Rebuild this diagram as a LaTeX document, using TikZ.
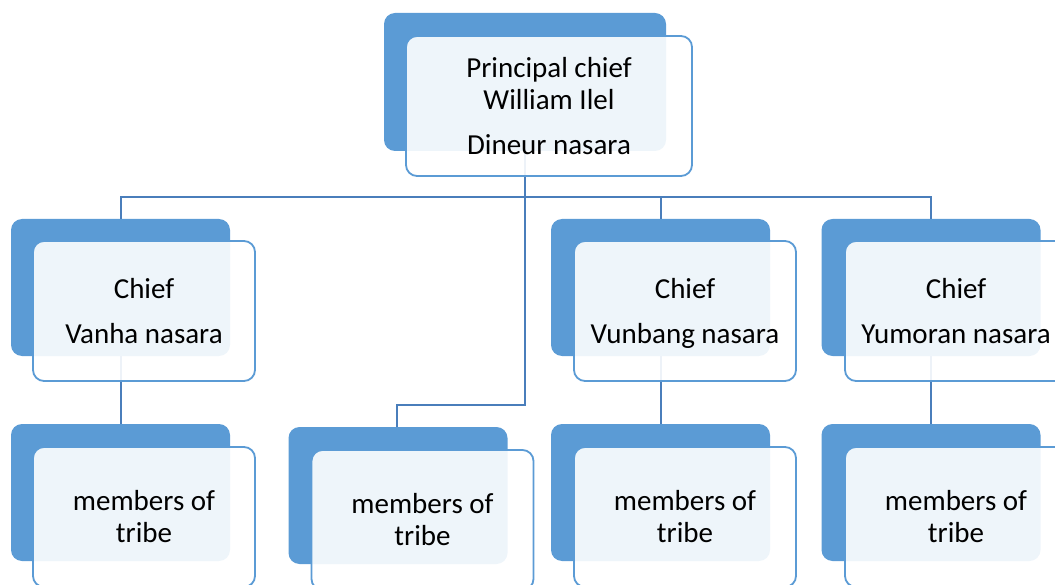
\documentclass[tikz,border=0pt]{standalone}
\usepackage{fontspec}
\setmainfont{Carlito}
\definecolor{backblue}{HTML}{5B9BD5}
\definecolor{edgeblue}{HTML}{5B9BD5}
\definecolor{lineblue}{HTML}{4A7EBB}
\begin{document}
\begin{tikzpicture}[x=1pt,y=-1pt,
  backbox/.style={rectangle,rounded corners=11pt,fill=backblue,draw=none,inner sep=0pt,minimum width=219pt,minimum height=137pt},
  frontbox/.style={rectangle,rounded corners=11pt,draw=edgeblue,line width=1.8pt,fill=white,fill opacity=0.9,text opacity=1,inner sep=0pt,minimum width=222pt,minimum height=140pt,align=center,font=\fontsize{29}{32}\selectfont},
  conn/.style={draw=lineblue,line width=2pt}]
\useasboundingbox (0,0) rectangle (1055,585);
% back boxes
\node[backbox,minimum width=282pt,minimum height=138pt] (tb) at (525,82) {};
\node[backbox] (c1b) at (120.5,287.5) {};
\node[backbox] (c2b) at (660.5,287.5) {};
\node[backbox] (c3b) at (931,287.5) {};
\node[backbox] (m1b) at (120.5,492.5) {};
\node[backbox] (m2b) at (398,495.5) {};
\node[backbox] (m3b) at (660.5,492.5) {};
\node[backbox] (m4b) at (931,492.5) {};
% connectors
\coordinate (bus) at (525,197);
\coordinate (j2) at (397,405);
\draw[conn] (c1b.north) |- (bus) -| (c3b.north);
\draw[conn] (bus) -| (c2b.north);
\draw[conn] (tb.south) |- (j2) -- (m2b.north -| j2);
\draw[conn] (c1b.south) -- (m1b.north);
\draw[conn] (c2b.south) -- (m3b.north);
\draw[conn] (c3b.south) -- (m4b.north);
% front boxes
\node[frontbox,minimum width=286pt] (tf) at (549,106) {Principal chief\\William Ilel\\[13pt]Dineur nasara};
\node[frontbox] (c1f) at (144,311) {Chief\\[13pt]Vanha nasara};
\node[frontbox] (c2f) at (685,311) {Chief\\[13pt]\smash{Vunbang nasara}};
\node[frontbox] (c3f) at (956,311) {Chief\\[13pt]Yumoran nasara};
\node[frontbox] (m1f) at (144,517) {members of\\tribe};
\node[frontbox] (m2f) at (422.5,520) {members of\\tribe};
\node[frontbox] (m3f) at (685,517) {members of\\tribe};
\node[frontbox] (m4f) at (956,517) {members of\\tribe};
\end{tikzpicture}
\end{document}
